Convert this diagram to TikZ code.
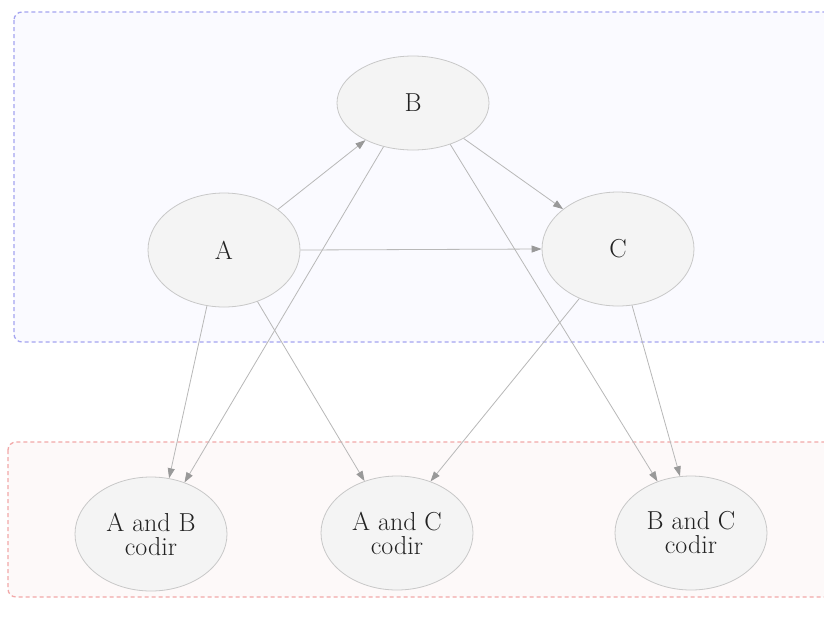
\documentclass[tikz,border=0pt]{standalone}
\usetikzlibrary{shapes.geometric,arrows.meta}
\definecolor{nodefill}{HTML}{F4F4F4}
\definecolor{nodeline}{HTML}{C8C8C8}
\definecolor{edgecol}{HTML}{B8B8B8}
\definecolor{tipcol}{HTML}{999999}
\definecolor{txtcol}{HTML}{222222}
\definecolor{blueline}{HTML}{A4A4F0}
\definecolor{bluefill}{HTML}{FAFAFF}
\definecolor{redline}{HTML}{F2A8A8}
\definecolor{redfill}{HTML}{FDF9F9}
\begin{document}
\begin{tikzpicture}[x=1pt,y=-1pt,
  vert/.style={ellipse,draw=nodeline,fill=nodefill,line width=0.8pt,inner sep=0pt,
    minimum width=152pt,minimum height=114pt,text=txtcol,align=center,
    font=\fontsize{26}{24}\selectfont},
  edge/.style={draw=edgecol,line width=0.8pt,
    -{Triangle[length=10pt,width=7pt,color=tipcol]}},
  cluster/.style={dashed,dash pattern=on 4pt off 3pt,line width=1.3pt,rounded corners=8pt}]
\useasboundingbox (0,0) rectangle (824,625);
\clip (0,0) rectangle (824,625);
\fill[white] (0,0) rectangle (824,625);
\draw[cluster,draw=blueline,fill=bluefill] (14,12) rectangle (845,342);
\draw[cluster,draw=redline,fill=redfill] (8,442) rectangle (845,597);
\node[vert,minimum height=94pt] (B) at (413,103) {B};
\node[vert] (A) at (224,250) {A};
\node[vert] (C) at (618,249) {C};
\node[vert] (AB) at (151,534) {A and B\\codir};
\node[vert] (AC) at (397,533) {A and C\\codir};
\node[vert] (BC) at (691,533) {B and C\\codir};
\draw[edge] (A.37) -- (B.218);
\draw[edge] (B.-35) -- (C.144);
\draw[edge] (A.0) -- (C.180);
\draw[edge] (A.253) -- (AB.72);
\draw[edge] (B.236) -- (AB.57);
\draw[edge] (A.-57) -- (AC.122);
\draw[edge] (C.232) -- (AC.57);
\draw[edge] (B.-48) -- (BC.123);
\draw[edge] (C.-76) -- (BC.101);
\end{tikzpicture}
\end{document}
